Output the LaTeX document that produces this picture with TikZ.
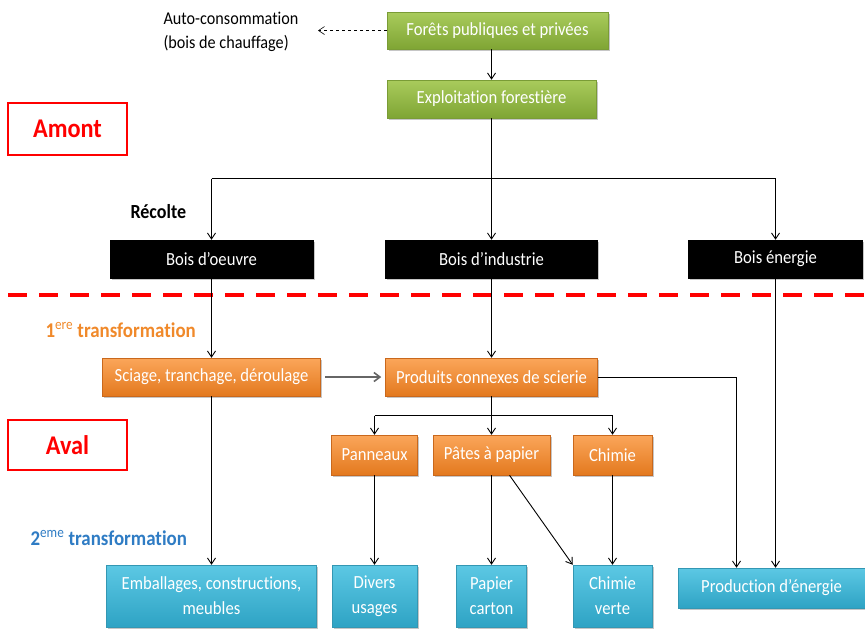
\documentclass[tikz,border=0pt]{standalone}
\usepackage{fontspec}
\setmainfont{Carlito}[FakeStretch=0.9, Ligatures=NoCommon]
\usetikzlibrary{arrows.meta,shadows,calc}
\definecolor{grtop}{HTML}{A9CB5C}
\definecolor{grbot}{HTML}{7FA534}
\definecolor{grline}{HTML}{7A9C36}
\definecolor{ortop}{HTML}{FBA65A}
\definecolor{orbot}{HTML}{E3791E}
\definecolor{orline}{HTML}{C9681C}
\definecolor{bltop}{HTML}{5CC8E4}
\definecolor{blbot}{HTML}{2EA3C4}
\definecolor{blline}{HTML}{3397B3}
\definecolor{orlab}{HTML}{F0892A}
\definecolor{bllab}{HTML}{2F7CC4}
\tikzset{
  box/.style={text=white, align=center, inner sep=1pt, line width=0.5pt,
    font=\fontsize{18.5}{25}\selectfont,
    drop shadow={shadow xshift=1.5pt, shadow yshift=-2pt, opacity=0.45}},
  gbox/.style={box, draw=grline, top color=grtop, bottom color=grbot},
  kbox/.style={box, draw=black, fill=black},
  obox/.style={box, draw=orline, top color=ortop, bottom color=orbot},
  bbox/.style={box, draw=blline, top color=bltop, bottom color=blbot},
  zone/.style={draw=red, line width=1.6pt, text=red, font=\fontsize{27}{30}\selectfont\bfseries, minimum width=119pt},
  arr/.style={-{Straight Barb[length=6pt,width=8pt]}, line width=0.9pt},
  ln/.style={line width=0.9pt},
  lab/.style={font=\fontsize{21}{23}\selectfont\bfseries, anchor=west},
}
\newcommand{\supsc}[1]{{\mdseries\textsuperscript{#1}}}
\begin{document}
\begin{tikzpicture}[x=1pt,y=-1pt]
\useasboundingbox (0,0) rectangle (865,630);
% green
\node[gbox, minimum width=221pt, minimum height=37pt] (foret) at (497.5,30.5) {Forêts publiques et privées};
\node[gbox, minimum width=209pt, minimum height=38pt] (expl) at (491.5,99) {Exploitation forestière};
% black
\node[kbox, minimum width=203pt, minimum height=38pt] (bo) at (211.5,259) {Bois d’oeuvre};
\node[kbox, minimum width=212pt, minimum height=38pt] (bi) at (491.5,259) {Bois d’industrie};
\node[kbox, minimum width=174pt, minimum height=38pt] (be) at (775.5,259) {Bois énergie};
% orange
\node[obox, minimum width=218pt, minimum height=38pt] (sci) at (211.5,377) {Sciage, tranchage, déroulage};
\node[obox, minimum width=212pt, minimum height=38pt] (pcs) at (491.5,377) {Produits connexes de scierie};
\node[obox, minimum width=86pt, minimum height=40pt] (pan) at (374.5,455) {Panneaux};
\node[obox, minimum width=117pt, minimum height=40pt] (pat) at (491.5,455) {Pâtes à papier};
\node[obox, minimum width=79pt, minimum height=40pt] (chi) at (612.5,455) {Chimie};
% blue
\node[bbox, minimum width=210pt, minimum height=62pt] (emb) at (211.5,596) {Emballages, constructions,\\meubles};
\node[bbox, minimum width=85pt, minimum height=62pt] (div) at (374.5,596) {Divers\\usages};
\node[bbox, minimum width=70pt, minimum height=62pt] (pap) at (491.5,596) {Papier\\carton};
\node[bbox, minimum width=79pt, minimum height=62pt] (chv) at (612.5,596) {Chimie\\verte};
\node[bbox, minimum width=187pt, minimum height=40pt] (prod) at (771.5,588) {Production d’énergie};
% labels
\node[align=left, anchor=west, font=\fontsize{18}{24}\selectfont] (auto) at (160,32) {Auto-consommation\\(bois de chauffage)};
\coordinate (autoend) at (318,30.5);
\node[zone, minimum height=52pt] (amont) at (67.5,129) {Amont};
\node[zone, minimum height=50pt] (aval) at (67.5,445) {Aval};
\node[lab, font=\fontsize{20}{22}\selectfont\bfseries] (recolte) at (127,212) {Récolte};
\node[lab, text=orlab] (t1) at (42,330) {1\supsc{ere} transformation};
\node[lab, text=bllab] (t2) at (27,538) {2\supsc{eme} transformation};
% red dashed separator
\coordinate (sepL) at (8,295);
\coordinate (sepR) at (865,295);
\draw[red, line width=3.5pt, dash pattern=on 19pt off 12pt] (sepL) -- (sepR);
% connectors
\draw[arr, dashed, line width=0.6pt] (foret.west) -- (autoend);
\draw[arr] (foret.south -| expl.north) -- (expl.north);
\coordinate (h1) at (491.5,178.5);
\draw[arr] (expl.south) -- (bi.north);
\draw[ln] (h1 -| bo.north) -- (h1 -| be.north);
\draw[arr] (h1 -| bo.north) -- (bo.north);
\draw[arr] (h1 -| be.north) -- (be.north);
\draw[arr] (bo.south) -- (sci.north);
\draw[arr] (bi.south) -- (pcs.north);
\draw[arr] (be.south) -- (be.south |- prod.north);
\draw[-{Straight Barb[length=6pt,width=9pt]}, line width=1.6pt, gray!80!black] ([xshift=4pt]sci.east) -- ([xshift=-4pt]pcs.west);
\coordinate (pe) at ([xshift=-35pt]prod.north);
\draw[arr] (pcs.east) -| (pe);
\coordinate (h2) at (491.5,415.5);
\draw[arr] (pcs.south) -- (pat.north);
\draw[ln] (h2 -| pan.north) -- (h2 -| chi.north);
\draw[arr] (h2 -| pan.north) -- (pan.north);
\draw[arr] (h2 -| chi.north) -- (chi.north);
\draw[arr] (sci.south) -- (emb.north);
\draw[arr] (pan.south) -- (div.north);
\draw[arr] (pat.south -| pap.north) -- (pap.north);
\draw[arr] ([xshift=18pt]pat.south) -- (chv.north west);
\draw[arr] (chi.south) -- (chv.north);
\end{tikzpicture}
\end{document}
